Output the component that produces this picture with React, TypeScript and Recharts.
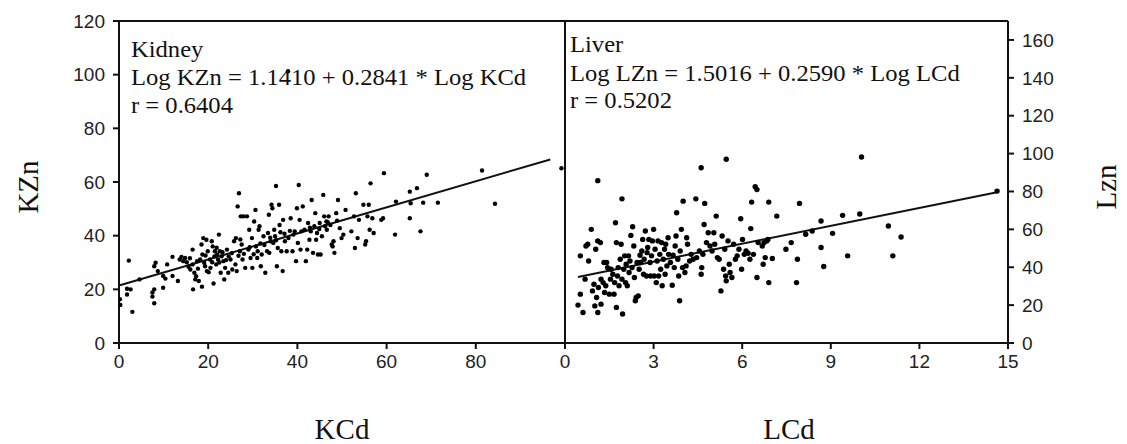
import React from 'react';
import { ScatterChart, Scatter, XAxis, YAxis, ReferenceLine } from 'recharts';

// ---------- Kidney panel data (KCd vs KZn) ----------
const kidneyKCd = [
  0.2, 0.3, 2.2, 1.8, 2.6, 1.8, 3, 4.6, 7.5, 7.9, 7.5, 7.9, 7.9, 8.2, 8.7, 9.9, 10.4, 9.9, 10.8, 12,
  12, 13.2, 13.6, 14, 14.4, 14.8, 15.2, 15.6, 16, 16.5, 16.5, 16.6, 16.9, 17.1, 17.3, 17.7, 17.9, 18.2, 18.5, 18.7,
  18.9, 18.6, 19.1, 19.3, 19.6, 19.7, 19.9, 20.1, 20.4, 20.5, 20.8, 21, 21.2, 21.4, 21.5, 21.8, 22, 22.2, 22.4, 22.6,
  22.8, 23, 23.4, 23.6, 23.8, 24.2, 24.5, 24.6, 25, 25.4, 25.8, 26.1, 26.2, 26.4, 26.6, 26.9, 27.1, 27.3, 27.5, 27.7,
  27.9, 28.3, 28.7, 29, 29.2, 29.5, 29.8, 29.9, 30.3, 30.6, 30.7, 31, 31.1, 31.3, 31.5, 31.8, 32, 32.4, 32.8, 33.2,
  33.4, 33.6, 33.7, 34, 34.2, 34.4, 34.6, 34.8, 35, 35.2, 35.4, 35.6, 35.9, 36, 36.4, 36.7, 36.8, 37.2, 37.6, 38,
  38.5, 38.9, 39.1, 39.4, 39.7, 39.9, 40.1, 40.3, 40.5, 40.7, 40.9, 41.2, 41.6, 41.9, 42.2, 42.4, 42.7, 43, 43.2, 43.5,
  43.8, 44, 44.2, 44.4, 44.6, 45, 45.2, 45.5, 45.8, 46, 46.2, 46.5, 46.6, 47, 47.4, 47.7, 47.9, 48.1, 48.3, 48.7,
  49.1, 49.5, 49.9, 50.3, 50.8, 52.1, 52.7, 52.9, 53.1, 53.5, 53.8, 54.8, 55.2, 55.4, 55.7, 56, 56.2, 56.4, 56.8, 57.1,
  58.8, 59.2, 61.9, 62.1, 65.2, 65.2, 65.4, 66.8, 67.6, 68.2, 71.5, 84.3, 59.4, 69, 81.4, 99.2, 37.9,
  22.5, 23.2, 24, 25.3, 26.8, 28, 29.3, 30.2, 32.6, 33.9, 35.2, 36.2, 37.1, 38.3, 42.8, 44.9, 46.8, 48.9, 19.4, 20.9,
  17.5, 15.9, 21.9, 27.2, 31.7,
];
const kidneyKZn = [
  16.3, 14.2, 30.7, 20.2, 20, 18.1, 11.6, 23.7, 17.3, 14.8, 18.8, 20, 28.6, 29.9, 26.8, 25, 24, 20.6, 29.3, 32.1,
  25, 23.1, 31.1, 32.1, 30.5, 31.7, 30.1, 28.4, 27.4, 34.8, 29.3, 20, 26.2, 23.7, 24.9, 27.7, 23.1, 31.1, 36.7, 33,
  39.1, 21, 29.9, 28.6, 38.5, 26.8, 34.2, 26.4, 31.1, 28, 37.9, 36, 22.2, 32.3, 34.2, 29.3, 33, 31.1, 40.4, 34.2,
  26.2, 32.3, 30.5, 23.7, 28, 34.8, 26.2, 32.3, 31.1, 27.4, 37.9, 29.3, 39.1, 26.8, 50.9, 55.8, 34.2, 47.2, 36.7, 31.1,
  47.2, 28, 47.2, 34.8, 42.2, 31.7, 39.1, 28, 45.3, 49.6, 36, 31.7, 34.2, 42.2, 43.5, 28.6, 33, 39.8, 26.2, 34.2,
  41, 47.8, 33.6, 37.9, 51.5, 50.2, 37.3, 42.2, 39.8, 58.5, 28.6, 35.4, 51.5, 44, 34.2, 26.8, 45.9, 37.9, 34.2, 39.1,
  46.5, 34.2, 40.4, 41.6, 30.5, 50.2, 37.3, 58.9, 45.9, 34.8, 41.6, 50.9, 42.2, 30.5, 34.8, 44.7, 38.5, 41.6, 53.3, 33.6,
  43.5, 48.4, 38.5, 41, 33, 44.7, 33, 39.8, 55.2, 47.2, 43.5, 45.3, 42.2, 47.2, 44, 36.7, 36, 37.9, 33.6, 48.4,
  53.3, 42.8, 39.1, 40.4, 49.6, 41.6, 47.2, 35.4, 55.8, 39.1, 45.9, 51.5, 36.7, 37.9, 47.2, 51.5, 42.2, 59.5, 46.5, 41,
  45.9, 46.5, 40.4, 52.7, 46.5, 56.4, 52.1, 57.7, 41.6, 52.3, 52.3, 51.9, 63.3, 62.7, 64.3, 65.1, 101.3,
  30, 33.8, 30.9, 33.5, 32.5, 33.2, 35.7, 33.1, 36.5, 39.2, 38.3, 41.3, 40.7, 41.8, 43, 42.5, 45, 45.6, 32.6, 30.1,
  30.5, 31.6, 35.5, 38.6, 37.1,
];
const kidneyFitKCd = [0.2, 96.7];
const kidneyFitKZn = [21.5, 68.4];

// ---------- Liver panel data (LCd vs LZn) ----------
const liverLCd = [
  0.44, 0.52, 0.52, 0.61, 0.68, 0.71, 0.77, 0.8, 0.89, 0.93, 0.98, 1.01, 1.04, 1.07, 1.11, 1.11, 1.13, 1.2, 1.22, 1.22,
  1.29, 1.32, 1.34, 1.38, 1.41, 1.44, 1.5, 1.54, 1.56, 1.62, 1.66, 1.68, 1.71, 1.74, 1.74, 1.78, 1.8, 1.83, 1.87, 1.9,
  1.93, 1.93, 1.95, 1.99, 2.02, 2.05, 2.07, 2.11, 2.15, 2.17, 2.2, 2.23, 2.27, 2.29, 2.33, 2.35, 2.38, 2.41, 2.44, 2.48,
  2.51, 2.54, 2.56, 2.6, 2.63, 2.66, 2.68, 2.72, 2.76, 2.78, 2.8, 2.84, 2.88, 2.9, 2.93, 2.96, 3, 3.02, 3.05, 3.09,
  3.12, 3.15, 3.17, 3.21, 3.24, 3.27, 3.29, 3.33, 3.37, 3.39, 3.41, 3.45, 3.49, 3.51, 3.57, 3.63, 3.66, 3.7, 3.73, 3.76,
  3.78, 3.82, 3.85, 3.88, 3.9, 3.94, 3.98, 4, 4.06, 4.1, 4.12, 4.15, 4.22, 4.27, 4.34, 4.43, 4.46, 4.55, 4.61, 4.63,
  4.67, 4.71, 4.73, 4.79, 4.85, 4.91, 4.98, 5.04, 5.07, 5.12, 5.16, 5.22, 5.28, 5.32, 5.37, 5.41, 5.44, 5.46, 5.52, 5.56,
  5.59, 5.65, 5.71, 5.77, 5.83, 5.89, 5.95, 5.98, 6.01, 6.07, 6.13, 6.2, 6.26, 6.29, 6.32, 6.38, 6.44, 6.5, 6.54, 6.68,
  6.71, 6.74, 6.78, 6.83, 6.87, 6.9, 6.9, 7.02, 7.17, 7.48, 7.66, 7.84, 7.87, 7.94, 8.15, 8.37, 8.67, 8.67, 8.76, 9.06,
  9.4, 9.57, 9.98, 10.95, 11.1, 11.38, 14.63, 1.11, 4.61, 5.46, 6.5, 10.04,
];
const liverLZn = [
  20, 25.8, 46, 16.1, 33.7, 51.2, 52.1, 43.3, 60, 27.5, 31, 19.6, 49.5, 24, 53.9, 16.1, 29.3, 53, 20.5, 33.7,
  31.9, 42.5, 26.7, 30.2, 42.5, 39.8, 25.8, 33.7, 38.9, 36.3, 25.8, 31.9, 63.5, 18.8, 53, 35.4, 39.8, 30.2, 44.2, 52.1,
  76.1, 33.7, 15.3, 38.9, 46, 31.9, 41.6, 30.2, 46, 37.2, 43.3, 56.8, 39.8, 61.4, 51.2, 34.6, 22.3, 24, 42.5, 24.9,
  38.9, 46.3, 42.5, 48.6, 54.7, 36.3, 44.2, 59.1, 35.4, 47.7, 50.4, 54.7, 42.5, 35.4, 46, 53.9, 60, 35.4, 49.5, 31.9,
  43.3, 53.9, 35.4, 46.8, 38.9, 53, 30.2, 44.2, 49.5, 36.3, 52.1, 40.7, 55.6, 46.8, 42.5, 30.5, 46.3, 39.8, 51.2, 56.5,
  68.8, 44.2, 35.4, 22.3, 48.6, 60, 39.8, 74.9, 37.2, 40.7, 55.6, 52.1, 43.3, 46.8, 44.2, 76.1, 45.1, 48.6, 36.3, 39.8,
  46.8, 62.6, 73.7, 53, 58.2, 51.2, 48.6, 58.2, 52.1, 67, 45.1, 44.2, 27.5, 56.5, 38.9, 49.5, 35.4, 32.8, 53.9, 41.6,
  37.2, 34.6, 52.1, 44.2, 46, 49.5, 65.6, 38.9, 54.7, 46.8, 48.6, 47.4, 44.2, 60.4, 74.4, 46.8, 82.5, 34.6, 53, 51.2,
  41.6, 53, 45.1, 53.9, 54.7, 31.9, 74.4, 44.6, 67, 49.5, 53, 31.9, 44.2, 73.7, 57.4, 59.1, 64.4, 50.4, 40.4, 57.9,
  67.4, 46, 68.1, 61.8, 46, 56, 80.2, 85.7, 92.5, 97, 81, 98.2,
];
const liverFitLCd = [0.44, 14.63];
const liverFitLZn = [34.9, 79.6];

// ---------- Axis ticks ----------
const kidneyXTicks = [0, 20, 40, 60, 80, 100];
const kidneyYTicks = [0, 20, 40, 60, 80, 100, 120];
const liverXTicks = [0, 3, 6, 9, 12, 15];
const liverYTicks = [0, 20, 40, 60, 80, 100, 120, 140, 160];

const kidneyData = kidneyKCd.map((x, i) => ({ x, y: kidneyKZn[i] }));
const liverData = liverLCd.map((x, i) => ({ x, y: liverLZn[i] }));

const INK = '#111';
const tickStyle = { fontFamily: '"Liberation Sans", Arial, sans-serif', fontSize: 19, fill: '#222' };
const serif = '"Liberation Serif", "Times New Roman", serif';
const axisStroke = { stroke: INK, strokeWidth: 2 };

const SmallDot = (r: number) => (p: any) => <circle cx={p.cx} cy={p.cy} r={r} fill="#000" />;

export default function App() {
  return (
    <div style={{ position: 'absolute', left: 0, top: 0, width: 1127, height: 444, background: '#fff' }}>
      <div style={{ position: 'absolute', left: 0, top: 0 }}>
        <ScatterChart width={580} height={444} margin={{ top: 21, right: 15, bottom: 41, left: 0 }}>
          <XAxis
            type="number"
            dataKey="x"
            domain={[0, 100]}
            ticks={kidneyXTicks}
            tickFormatter={(v: number) => (v === 100 ? '' : String(v))}
            height={60}
            tickSize={6}
            tickMargin={6}
            axisLine={axisStroke}
            tickLine={axisStroke}
            tick={tickStyle}
            allowDataOverflow
          />
          <YAxis
            type="number"
            dataKey="y"
            domain={[0, 120]}
            ticks={kidneyYTicks}
            width={119}
            tickSize={6}
            tickMargin={8}
            axisLine={axisStroke}
            tickLine={axisStroke}
            tick={tickStyle}
            allowDataOverflow
          />
          <ReferenceLine y={120} stroke={INK} strokeWidth={2} ifOverflow="visible" />
          <ReferenceLine x={100} stroke={INK} strokeWidth={2} ifOverflow="visible" />
          <ReferenceLine
            segment={[
              { x: kidneyFitKCd[0], y: kidneyFitKZn[0] },
              { x: kidneyFitKCd[1], y: kidneyFitKZn[1] },
            ]}
            stroke={INK}
            strokeWidth={2}
            ifOverflow="visible"
          />
          <Scatter data={kidneyData} isAnimationActive={false} shape={SmallDot(2.2)} />
        </ScatterChart>
      </div>
      <div style={{ position: 'absolute', left: 560, top: 0 }}>
        <ScatterChart width={567} height={444} margin={{ top: 21, right: 0, bottom: 41, left: 5 }}>
          <XAxis
            type="number"
            dataKey="x"
            domain={[0, 15]}
            ticks={liverXTicks}
            height={60}
            tickSize={6}
            tickMargin={6}
            axisLine={axisStroke}
            tickLine={axisStroke}
            tick={tickStyle}
            allowDataOverflow
          />
          <YAxis
            type="number"
            dataKey="y"
            orientation="right"
            domain={[0, 170]}
            ticks={liverYTicks}
            width={119}
            tickSize={6}
            tickMargin={8}
            axisLine={axisStroke}
            tickLine={axisStroke}
            tick={tickStyle}
            allowDataOverflow
          />
          <ReferenceLine y={170} stroke={INK} strokeWidth={2} ifOverflow="visible" />
          <ReferenceLine x={0} stroke={INK} strokeWidth={2} ifOverflow="visible" />
          <ReferenceLine
            segment={[
              { x: liverFitLCd[0], y: liverFitLZn[0] },
              { x: liverFitLCd[1], y: liverFitLZn[1] },
            ]}
            stroke={INK}
            strokeWidth={2}
            ifOverflow="visible"
          />
          <Scatter data={liverData} isAnimationActive={false} shape={SmallDot(2.7)} />
        </ScatterChart>
      </div>
      <svg
        width={1127}
        height={444}
        style={{ position: 'absolute', left: 0, top: 0, pointerEvents: 'none' }}
      >
        <g fontFamily={serif} fontSize={23} fill="#111">
          <text x={131} y={57} transform="translate(131 0) scale(1.07 1) translate(-131 0)">Kidney</text>
          <text x={131} y={85} transform="translate(131 0) scale(1.07 1) translate(-131 0)">
            Log KZn = 1.1410 + 0.2841 * Log KCd
          </text>
          <text x={131} y={113} transform="translate(131 0) scale(1.07 1) translate(-131 0)">r = 0.6404</text>
          <text x={570} y={52} transform="translate(570 0) scale(1.07 1) translate(-570 0)">Liver</text>
          <text x={570} y={81} transform="translate(570 0) scale(1.07 1) translate(-570 0)">
            Log LZn = 1.5016 + 0.2590 * Log LCd
          </text>
          <text x={570} y={108} transform="translate(570 0) scale(1.07 1) translate(-570 0)">r = 0.5202</text>
        </g>
        <g fontFamily={serif} fontSize={29} fill="#111" textAnchor="middle">
          <text x={342} y={439}>KCd</text>
          <text x={789} y={439}>LCd</text>
          <text x={38} y={187} transform="rotate(-90 38 187)">KZn</text>
          <text x={1116} y={187} transform="rotate(-90 1116 187)">Lzn</text>
        </g>
      </svg>
    </div>
  );
}
